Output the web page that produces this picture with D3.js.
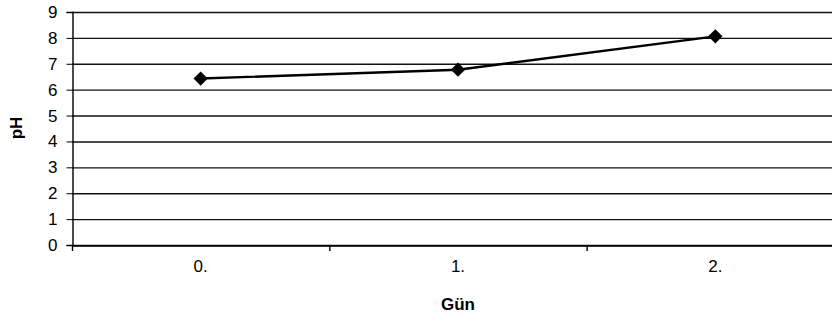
<!DOCTYPE html>
<html>
<head>
<meta charset="utf-8">
<script src="https://cdn.jsdelivr.net/npm/d3@7"></script>
<style>
  body { margin: 0; background: #fff; }
  svg { display: block; font-family: "Liberation Sans", Arial, sans-serif; }
</style>
</head>
<body>
<div id="chart"></div>
<script>
// data
var days = ["0.", "1.", "2."];
var phValues = [6.43, 6.77, 8.06];
var yTicks = [0, 1, 2, 3, 4, 5, 6, 7, 8, 9];

var svgWidth = 832;
var svgHeight = 326;

var margin = { top: 12, right: -12, bottom: 81, left: 72 };
var width = svgWidth - margin.left - margin.right;
var height = svgHeight - margin.top - margin.bottom;

var svg = d3.select("#chart")
  .append("svg")
  .attr("width", svgWidth)
  .attr("height", svgHeight);

var chartGroup = svg.append("g")
  .attr("transform", `translate(${margin.left}, ${margin.top})`);

var xScale = d3.scaleBand()
  .domain(days)
  .range([0, width]);

var yScale = d3.scaleLinear()
  .domain([0, 9])
  .range([height, 0]);

// horizontal gridlines
chartGroup.append("g")
  .selectAll("line")
  .data(yTicks)
  .enter()
  .append("line")
  .attr("x1", 0)
  .attr("x2", width)
  .attr("y1", d => yScale(d) + 0.5)
  .attr("y2", d => yScale(d) + 0.5)
  .attr("stroke", "#111")
  .attr("stroke-width", 1.4);

// y axis
var leftAxis = d3.axisLeft(yScale)
  .tickValues(yTicks)
  .tickSize(6)
  .tickPadding(9)
  .tickFormat(d3.format("d"));

var yAxis = chartGroup.append("g")
  .attr("transform", "translate(0.5, 0)")
  .call(leftAxis);
yAxis.select(".domain").attr("stroke", "#000").attr("stroke-width", 1.4);
yAxis.selectAll(".tick line").attr("stroke", "#000");
yAxis.selectAll("text")
  .attr("font-size", 17)
  .attr("fill", "#000");

// x axis: ticks on category boundaries
var bottomAxis = d3.axisBottom(xScale).tickSize(0).tickPadding(14);
var xAxis = chartGroup.append("g")
  .attr("transform", `translate(0, ${height + 0.5})`)
  .call(bottomAxis);
xAxis.select(".domain").attr("stroke", "#000").attr("stroke-width", 1.6);
xAxis.selectAll("text")
  .attr("font-size", 17)
  .attr("fill", "#000");

chartGroup.append("g")
  .selectAll("line")
  .data(days)
  .enter()
  .append("line")
  .attr("x1", d => xScale(d) + 0.5)
  .attr("x2", d => xScale(d) + 0.5)
  .attr("y1", height)
  .attr("y2", height + 6)
  .attr("stroke", "#000")
  .attr("stroke-width", 1.4);

// line
var line = d3.line()
  .x((d, i) => xScale(days[i]) + xScale.bandwidth() / 2)
  .y(d => yScale(d));

chartGroup.append("path")
  .datum(phValues)
  .attr("d", line)
  .attr("fill", "none")
  .attr("stroke", "#000")
  .attr("stroke-width", 2.4);

// diamond markers
chartGroup.selectAll(".marker")
  .data(phValues)
  .enter()
  .append("path")
  .attr("class", "marker")
  .attr("d", d3.symbol().type(d3.symbolDiamond2).size(130))
  .attr("transform", (d, i) => `translate(${xScale(days[i]) + xScale.bandwidth() / 2}, ${yScale(d)})`)
  .attr("fill", "#000");

// axis titles
svg.append("text")
  .attr("x", margin.left + xScale(days[1]) + xScale.bandwidth() / 2)
  .attr("y", 310)
  .attr("text-anchor", "middle")
  .attr("font-size", 17)
  .attr("font-weight", "bold")
  .text("Gün");

svg.append("text")
  .attr("transform", "translate(22, 128) rotate(-90)")
  .attr("text-anchor", "middle")
  .attr("font-size", 17)
  .attr("font-weight", "bold")
  .text("pH");
</script>
</body>
</html>
